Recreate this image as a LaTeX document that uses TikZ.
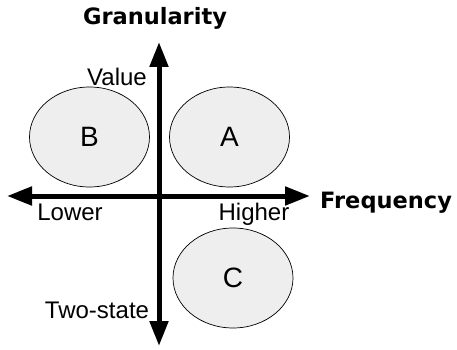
\documentclass[tikz,border=0pt]{standalone}
\usepackage{fontspec}
\setmainfont{Liberation Sans}
\newfontfamily\heavyfont{DejaVu Sans}
\usetikzlibrary{shapes.geometric,arrows.meta}
\tikzset{
  blob/.style={ellipse, draw=black, line width=0.7pt, fill=gray!13, minimum width=120pt, minimum height=100pt, inner sep=0pt, font=\fontsize{28}{30}\selectfont},
  axis/.style={line width=5pt, {Triangle[length=25pt,width=18pt]}-{Triangle[length=25pt,width=18pt]}},
  lbl/.style={font=\fontsize{24}{26}\selectfont, inner sep=0pt},
  title/.style={font=\heavyfont\bfseries\fontsize{22.5}{24}\selectfont, inner sep=0pt}
}
\begin{document}
\begin{tikzpicture}[x=1pt,y=-1pt]
\useasboundingbox (0,0) rectangle (457,350);
\node[blob] (B) at (89.5,137) {B};
\node[blob] (A) at (229.5,137) {A};
\node[blob] (C) at (233,278) {C};
\coordinate (top) at (159,42);
\coordinate (bot) at (159,346);
\coordinate (left) at (7,196);
\coordinate (right) at (310,196);
\draw[axis] (bot) -- (top);
\draw[axis] (left) -- (right);
\node[title, anchor=base] (gran) at (155,25) {Granularity};
\node[title, anchor=base west] (freq) at (320,208) {Frequency};
\node[lbl, anchor=base] (val) at (117,85) {Value};
\node[lbl, anchor=base] (low) at (70,220) {Lower};
\node[lbl, anchor=base] (high) at (254,220) {Higher};
\node[lbl, anchor=base] (two) at (97,318) {Two-state};
\end{tikzpicture}
\end{document}
